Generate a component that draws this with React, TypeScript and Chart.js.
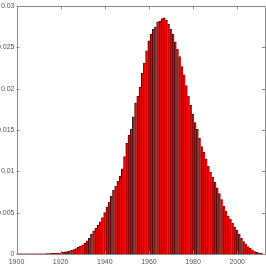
import React, { useEffect, useRef } from "react";
import { Chart, registerables } from "chart.js";

Chart.register(...registerables);

const startYear = 1900;
const values: number[] = [
  0.00002, 0.00002, 0.00002, 0.00002, 0.00002, 0.00002, 0.00002, 0.00002, 0.00002, 0.00002,
  0.00003, 0.00003, 0.00003, 0.00003, 0.00004, 0.00006, 0.00007, 0.00008, 0.0001, 0.00012,
  0.00015, 0.0002, 0.00025, 0.0003, 0.00035, 0.00045, 0.00055, 0.00065, 0.0008, 0.00095,
  0.0011, 0.0013, 0.0016, 0.0019, 0.0024, 0.0028, 0.0031, 0.0035, 0.0039, 0.0044,
  0.005, 0.0057, 0.0063, 0.007, 0.0077, 0.0082, 0.0088, 0.0094, 0.0103, 0.0118,
  0.0134, 0.0144, 0.0151, 0.0166, 0.0183, 0.0191, 0.0202, 0.0219, 0.0231, 0.0246,
  0.0258, 0.0266, 0.0272, 0.0275, 0.0281, 0.0282, 0.0285, 0.0286, 0.0283, 0.0278,
  0.0272, 0.0266, 0.0257, 0.0248, 0.0239, 0.0227, 0.0217, 0.0204, 0.0191, 0.018,
  0.0169, 0.0159, 0.0151, 0.014, 0.013, 0.0123, 0.0115, 0.0106, 0.0099, 0.0093,
  0.0087, 0.008, 0.0073, 0.0066, 0.0058, 0.0052, 0.0046, 0.0042, 0.0037, 0.0033,
  0.0029, 0.0024, 0.0019, 0.0015, 0.0012, 0.0009, 0.0007, 0.0005, 0.0003, 0.0002,
  0.00015, 0.0001,
];
const xTicks = [1900, 1920, 1940, 1960, 1980, 2000];
const yTicks = [0, 0.005, 0.01, 0.015, 0.02, 0.025, 0.03];
const xMin = 1900;
const xMax = 2012.6;
const yMin = 0;
const yMax = 0.03;

const framePlugin = {
  id: "frame",
  afterDraw(chart: any) {
    const { ctx, chartArea } = chart;
    const xs = chart.scales.x;
    const ys = chart.scales.y;
    const { left, right, top, bottom } = chartArea;
    ctx.save();
    ctx.strokeStyle = "#8a8a8a";
    ctx.lineWidth = 1;
    ctx.beginPath();
    ctx.rect(Math.round(left) + 0.5, Math.round(top) + 0.5, Math.round(right - left) - 1, Math.round(bottom - top));
    ctx.stroke();
    const tl = 3;
    ctx.beginPath();
    for (const v of xTicks) {
      const px = Math.round(xs.getPixelForValue(v)) + 0.5;
      ctx.moveTo(px, bottom);
      ctx.lineTo(px, bottom - tl);
      ctx.moveTo(px, top);
      ctx.lineTo(px, top + tl);
    }
    for (const v of yTicks) {
      const py = Math.round(ys.getPixelForValue(v)) + 0.5;
      ctx.moveTo(left, py);
      ctx.lineTo(left + tl, py);
      ctx.moveTo(right, py);
      ctx.lineTo(right - tl, py);
    }
    ctx.stroke();
    ctx.restore();
  },
};

export default function App() {
  const ref = useRef<HTMLCanvasElement | null>(null);
  useEffect(() => {
    document.body.style.margin = "0";
    const canvas = ref.current;
    if (!canvas) return;
    const data = values.map((v, i) => ({ x: startYear + i, y: v }));
    const chart = new Chart(canvas, {
      type: "bar",
      data: {
        datasets: [
          {
            data: data as any,
            backgroundColor: "#f00000",
            borderColor: "#3a0a0a",
            borderWidth: { left: 0.9, right: 0, top: 0.7, bottom: 0 } as any,
            borderSkipped: false,
            barPercentage: 1,
            categoryPercentage: 1,
          },
        ],
      },
      plugins: [framePlugin],
      options: {
        animation: false,
        responsive: false,
        devicePixelRatio: 1,
        layout: { padding: { top: 4, right: 1, left: 0, bottom: 0 } },
        plugins: { legend: { display: false }, tooltip: { enabled: false } },
        scales: {
          x: {
            type: "linear",
            min: xMin,
            max: xMax,
            offset: false,
            grid: { display: false, drawTicks: false },
            border: { display: false },
            afterBuildTicks: (s: any) => {
              s.ticks = xTicks.map((v) => ({ value: v }));
            },
            afterFit: (s: any) => {
              s.height = 12;
            },
            ticks: {
              padding: 4,
              maxRotation: 0,
              autoSkip: false,
              color: "#555",
              font: { family: "Liberation Sans", size: 7 },
              callback: (v: any) => String(v),
            },
          },
          y: {
            min: yMin,
            max: yMax,
            grid: { display: false, drawTicks: false },
            border: { display: false },
            afterBuildTicks: (s: any) => {
              s.ticks = yTicks.map((v) => ({ value: v }));
            },
            afterFit: (s: any) => {
              s.width = 16.5;
            },
            ticks: {
              padding: 2,
              color: "#555",
              font: { family: "Liberation Sans", size: 7 },
              callback: (v: any) => String(v),
            },
          },
        },
      },
    });
    return () => chart.destroy();
  }, []);
  return (
    <div style={{ position: "absolute", left: 0, top: 0, width: 266, height: 266, background: "#fff" }}>
      <canvas ref={ref} width={266} height={266} />
    </div>
  );
}
